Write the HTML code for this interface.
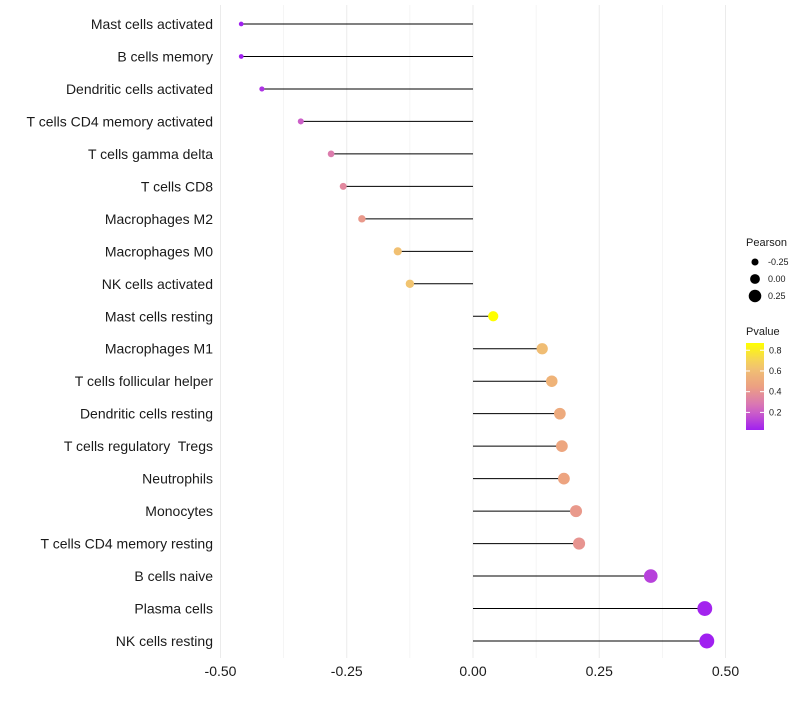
<!DOCTYPE html>
<html><head><meta charset="utf-8"><style>
body{margin:0;background:#fff;font-family:"Liberation Sans",Arial,sans-serif}
text{white-space:pre}
</style></head><body>
<svg id="chart" width="800" height="700"></svg>
<script>
const categories=["Mast cells activated","B cells memory","Dendritic cells activated","T cells CD4 memory activated","T cells gamma delta","T cells CD8","Macrophages M2","Macrophages M0","NK cells activated","Mast cells resting","Macrophages M1","T cells follicular helper","Dendritic cells resting","T cells regulatory  Tregs","Neutrophils","Monocytes","T cells CD4 memory resting","B cells naive","Plasma cells","NK cells resting"];
const pearson=[-0.459,-0.459,-0.418,-0.341,-0.281,-0.257,-0.22,-0.149,-0.125,0.04,0.137,0.156,0.172,0.176,0.18,0.204,0.21,0.352,0.459,0.463];
const pvalue=[0.03,0.03,0.08,0.2,0.3,0.35,0.42,0.62,0.64,0.87,0.6,0.55,0.5,0.48,0.47,0.42,0.4,0.12,0.04,0.03];
const xTicks=[-0.5,-0.25,0,0.25,0.5];
const xTickLabels=["-0.50","-0.25","0.00","0.25","0.50"];
const sizeLegend=[-0.25,0,0.25];
const sizeLegendLabels=["-0.25","0.00","0.25"];
const colorTicks=[0.2,0.4,0.6,0.8];

const NS="http://www.w3.org/2000/svg";
const svg=document.getElementById('chart');
function mk(t,a,p){const e=document.createElementNS(NS,t);for(const k in a)e.setAttribute(k,a[k]);(p||svg).appendChild(e);return e;}
const x=v=>473+v*505;
const y=i=>24+i*(617/19);
const r=v=>4.9+5.5*v;
const pmin=0.03,pmax=0.87;
function col(p){
  let t=Math.max(0,Math.min(1,(p-pmin)/(pmax-pmin)));
  const stops=[[160,32,240],[214,110,190],[236,160,130],[242,200,110],[255,255,0]];
  const s=t*4,i=Math.min(3,Math.floor(s)),f=s-i;
  const c=stops[i].map((v,k)=>Math.round(v+(stops[i+1][k]-v)*f));
  return `rgb(${c})`;
}
for(let v=-0.5;v<=0.501;v+=0.125){
  const g=mk('line',{x1:x(v),x2:x(v),y1:5,y2:658,stroke:'#ebebeb','stroke-width':Math.abs((v*4)%1)<0.01?1:0.5});
  
  
}
xTicks.forEach((v,i)=>{
  const t=mk('text',{x:x(v),y:676,'text-anchor':'middle','font-size':14,fill:'#1a1a1a'});
  t.textContent=xTickLabels[i];
  
  
});
categories.forEach((c,i)=>{
  const t=mk('text',{x:213,y:y(i)+5,'text-anchor':'end','font-size':14,fill:'#1a1a1a'});
  t.textContent=c;
  
  
  const l=mk('line',{x1:x(0),x2:x(pearson[i]),y1:y(i),y2:y(i),stroke:'#000','stroke-width':1});
  
  
  const d=mk('circle',{cx:x(pearson[i]),cy:y(i),r:r(pearson[i]),fill:col(pvalue[i])});
  
  
});
const lt=mk('text',{x:746,y:246,'font-size':11,fill:'#1a1a1a'});lt.textContent='Pearson';


sizeLegend.forEach((v,i)=>{
  const cy=262+i*17;
  const c=mk('circle',{cx:755,cy:cy,r:r(v),fill:'#000'});
  
  
  const t=mk('text',{x:768,y:cy+3,'font-size':9,fill:'#1a1a1a'});t.textContent=sizeLegendLabels[i];
  
  
});
const ct=mk('text',{x:746,y:335,'font-size':11,fill:'#1a1a1a'});ct.textContent='Pvalue';


const defs=mk('defs',{});
const grad=mk('linearGradient',{id:'pg',x1:0,y1:1,x2:0,y2:0},defs);
for(let k=0;k<=10;k++){mk('stop',{offset:k/10,'stop-color':col(pmin+(pmax-pmin)*k/10)},grad);}
const cb=mk('rect',{x:746,y:343,width:18,height:87,fill:'url(#pg)'});


const cy=p=>430-(p-pmin)/(pmax-pmin)*87;
colorTicks.forEach(p=>{
  mk('line',{x1:746,x2:750,y1:cy(p),y2:cy(p),stroke:'#fff'});
  mk('line',{x1:760,x2:764,y1:cy(p),y2:cy(p),stroke:'#fff'});
  const t=mk('text',{x:769,y:cy(p)+3,'font-size':9,fill:'#1a1a1a'});t.textContent=p.toFixed(1);
  
  
});
</script>
</body></html>
